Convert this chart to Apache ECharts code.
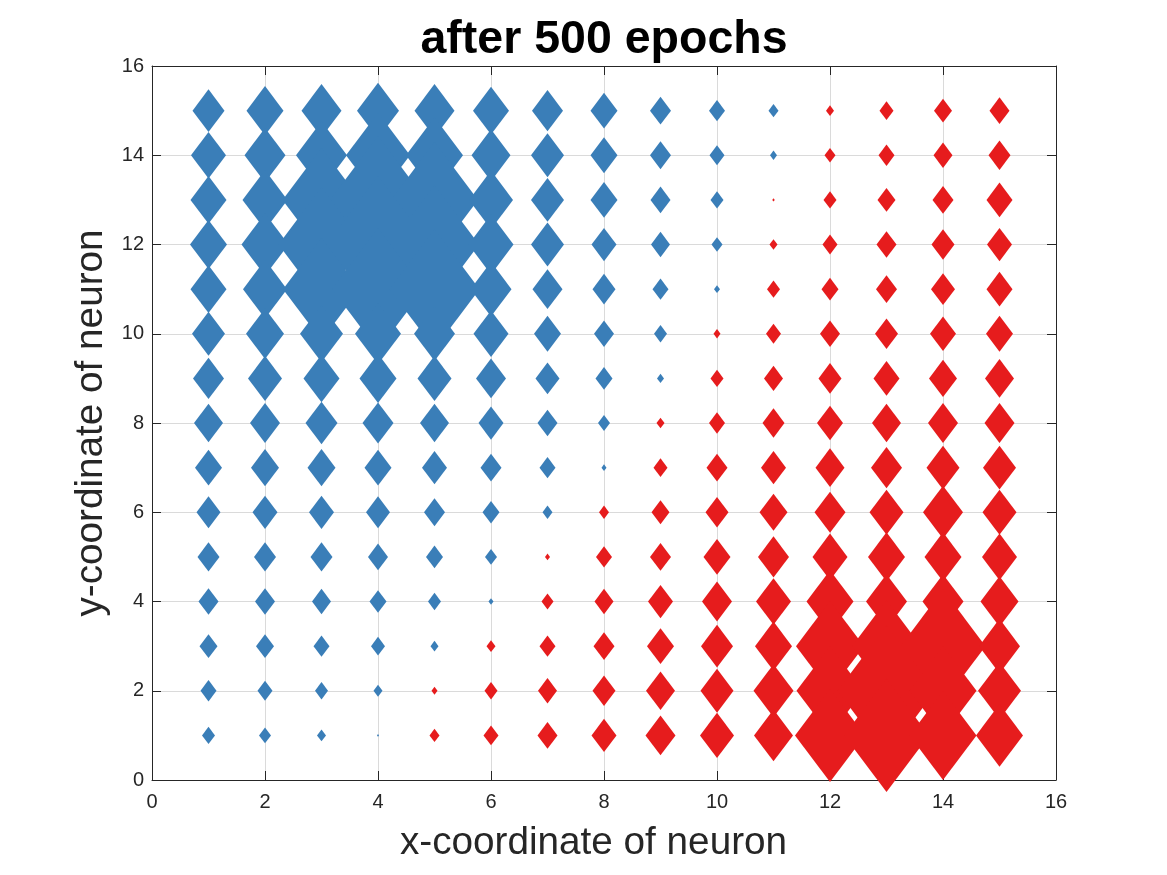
<!DOCTYPE html>
<html><head><meta charset="utf-8">
<style>html,body{margin:0;padding:0;background:#fff}#c{width:1167px;height:875px}</style>
<script src="https://cdn.jsdelivr.net/npm/echarts@6/dist/echarts.min.js"></script>
</head><body><div id="c"></div>
<script>
// Neuron weights; sign gives the class (+ blue, - red), magnitude gives the marker size.
const xCoords = [1,2,3,4,5,6,7,8,9,10,11,12,13,14,15];
const y15 = [32,37,40,42,40,36,31,27,21,16,10,-8,-14,-18,-20];
const y14 = [35,41,51,64,57,39,33,27,21,15,7,-11,-16,-19,-22];
const y13 = [36,45,78,96,87,44,33,27,20,13,-2.5,-13,-18,-21,-26];
const y12 = [37,47,86,103,89,45,33,25,19,11,-8,-15,-20,-23,-25];
const y11 = [36,44,77,92,90,41,30,23,16,6,-13,-17,-21,-24,-26];
const y10 = [33,38,43,46,41,35,27,20,13,-7,-15,-20,-23,-26,-27];
const y9  = [31,34,36,37,34,30,24,17,7,-13,-19,-23,-26,-28,-29];
const y8  = [29,30,32,31,29,25,20,12,-8,-16,-22,-26,-29,-30,-30];
const y7  = [27,28,28,27,25,21,16,5,-14,-21,-25,-29,-31,-33,-33];
const y6  = [24,25,25,24,21,17,10,-10,-18,-23,-28,-31,-34,-40,-34];
const y5  = [22,22,22,20,17,12,-5,-16,-21,-27,-31,-35,-37,-37,-35];
const y4  = [20,20,19,17,13,5,-12,-19,-25,-30,-35,-47,-41,-41,-38];
const y3  = [18,18,16,14,8,-9,-16,-21,-27,-32,-37,-68,-69,-85,-41];
const y2  = [16,15,13,9,-6,-13,-19,-23,-29,-33,-40,-67,-98,-67,-43];
const y1  = [13,12,9,2,-10,-15,-20,-25,-30,-34,-39,-70,-85,-67,-47];
const rows = [[15,y15],[14,y14],[13,y13],[12,y12],[11,y11],[10,y10],[9,y9],[8,y8],[7,y7],[6,y6],[5,y5],[4,y4],[3,y3],[2,y2],[1,y1]];
const titleText = 'after 500 epochs';
const xLabel = 'x-coordinate of neuron';
const yLabel = 'y-coordinate of neuron';
const blue = [], red = [];
rows.forEach(([y, vals]) => vals.forEach((v, i) => (v > 0 ? blue : red).push([xCoords[i], y, Math.abs(v)])));

const FONT = '"Liberation Sans", Arial, sans-serif';
const INK = '#262626';
const axisLine = {show:true, onZero:false, lineStyle:{color:INK, width:1}};
const ticks = {show:true, inside:true, length:9, lineStyle:{color:INK, width:1}};
const labels = {color:INK, fontFamily:FONT, fontSize:20};
const grid = {show:true, lineStyle:{color:'#dadada', width:1}};
const base = {type:'value', min:0, max:16, interval:2};
const sym = d => [d[2], d[2]*1.33];
const scatter = (data, color) => ({type:'scatter', data, symbol:'diamond', symbolSize:sym, clip:false, silent:true,
  itemStyle:{color, opacity:1}, z:5});

const chart = echarts.init(document.getElementById('c'), null, {renderer:'canvas'});
chart.setOption({
  animation:false,
  backgroundColor:'#fff',
  title:{text:titleText, left:599, top:12, textAlign:'center',
    textStyle:{fontFamily:FONT, fontWeight:'bold', fontSize:46.5, color:'#000'}},
  grid:{left:152, top:66, width:904, height:714},
  xAxis:[
    {...base, position:'bottom', axisLine, axisTick:ticks, axisLabel:{...labels, margin:12}, splitLine:grid,
     name:xLabel, nameLocation:'middle', nameGap:44, nameTextStyle:{fontFamily:FONT, fontSize:38.7, color:INK, padding:[0,21,0,0]}},
    {...base, position:'top', axisLine, axisTick:ticks, axisLabel:{show:false}, splitLine:{show:false}}
  ],
  yAxis:[
    {...base, position:'left', axisLine, axisTick:ticks, axisLabel:{...labels, margin:8, padding:[4,0,0,0]}, splitLine:grid,
     name:yLabel, nameLocation:'middle', nameGap:39, nameTextStyle:{fontFamily:FONT, fontSize:38.7, color:INK}},
    {...base, position:'right', axisLine, axisTick:ticks, axisLabel:{show:false}, splitLine:{show:false}}
  ],
  series:[scatter(blue,'#3a7eb8'), scatter(red,'#e61c1d')]
});
</script></body></html>
